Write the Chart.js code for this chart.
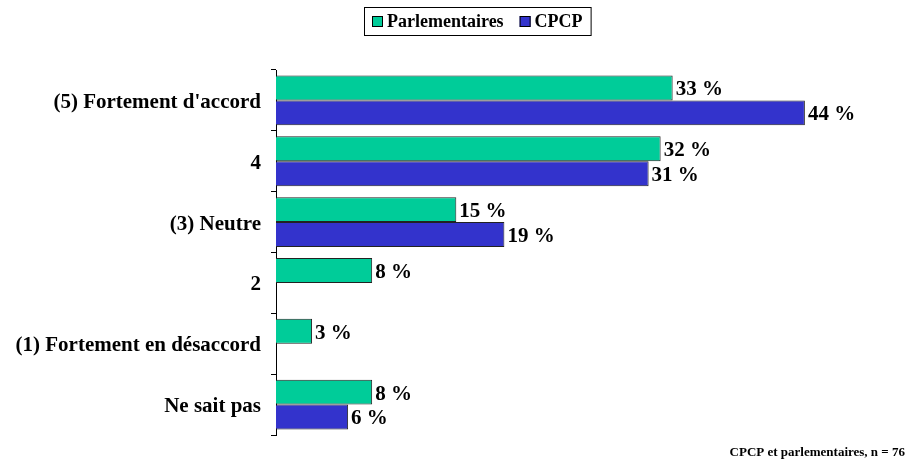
<!DOCTYPE html>
<html>
<head>
<meta charset="utf-8">
<script src="https://cdn.jsdelivr.net/npm/chart.js@4"></script>
<style>
    html, body { margin: 0; padding: 0; background: #fff; }
    #wrap { width: 909px; height: 463px; position: relative; }
</style>
</head>
<body>
<div id="wrap"><canvas id="chart"></canvas></div>
<script>
const categories = ["(5) Fortement d'accord", "4", "(3) Neutre", "2", "(1) Fortement en désaccord", "Ne sait pas"];
const parlementaires = [33, 32, 15, 8, 3, 8];
const cpcp = [44, 31, 19, null, null, 6];
const seriesNames = ["Parlementaires", "CPCP"];
const seriesColors = ["#00CC99", "#3333CC"];
const note = "CPCP et parlementaires, n = 76";

const FONT = "'Liberation Serif', 'Times New Roman', serif";

// etiquettes de valeur + legende encadree + note
const extras = {
    id: "extras",
    afterDatasetsDraw(chart) {
        const ctx = chart.ctx;
        ctx.save();
        ctx.fillStyle = "#000";
        ctx.font = "bold 21px " + FONT;
        ctx.textBaseline = "middle";
        ctx.textAlign = "left";
        chart.data.datasets.forEach((ds, i) => {
            chart.getDatasetMeta(i).data.forEach((bar, j) => {
                if (ds.data[j] == null) return;
                ctx.fillText(ds.data[j] + " %", bar.x + 3, bar.y + 2);
            });
        });
        ctx.restore();
    },
    afterDraw(chart) {
        const ctx = chart.ctx;
        ctx.save();
        // legende
        ctx.font = "bold 18px " + FONT;
        const gap = 16, sq = 11, pad = 8;
        let w = pad;
        seriesNames.forEach((n, i) => {
            w += sq + 4 + ctx.measureText(n).width + (i < seriesNames.length - 1 ? gap : 0);
        });
        w += pad;
        const left = 364, top = 7, h = 28;
        ctx.strokeStyle = "#000";
        ctx.lineWidth = 1;
        ctx.strokeRect(left + 0.5, top + 0.5, w, h);
        let x = left + pad;
        ctx.textBaseline = "middle";
        ctx.textAlign = "left";
        seriesNames.forEach((n, i) => {
            ctx.fillStyle = seriesColors[i];
            ctx.fillRect(x, top + 9, sq, sq);
            ctx.strokeRect(x + 0.5, top + 9.5, sq - 1, sq - 1);
            ctx.fillStyle = "#000";
            ctx.fillText(n, x + sq + 4, top + h / 2 + 1);
            x += sq + 4 + ctx.measureText(n).width + gap;
        });
        // note
        ctx.font = "bold 13px " + FONT;
        ctx.textAlign = "right";
        ctx.textBaseline = "alphabetic";
        ctx.fillText(note, chart.width - 4, chart.height - 7);
        ctx.restore();
    }
};

new Chart(document.getElementById("chart"), {
    type: "bar",
    data: {
        labels: categories,
        datasets: [
            { label: seriesNames[0], data: parlementaires, backgroundColor: seriesColors[0], borderColor: "#222", borderWidth: 1 },
            { label: seriesNames[1], data: cpcp, backgroundColor: seriesColors[1], borderColor: "#222", borderWidth: 1 }
        ]
    },
    options: {
        indexAxis: "y",
        responsive: true,
        maintainAspectRatio: false,
        animation: false,
        layout: { padding: { top: 70, right: 32, bottom: 28, left: 0 } },
        datasets: { bar: { categoryPercentage: 0.82, barPercentage: 1.0 } },
        plugins: {
            legend: { display: false },
            tooltip: { enabled: false }
        },
        scales: {
            x: { display: false, min: 0, max: 50 },
            y: {
                afterFit: scale => { scale.width = 276; },
                border: { color: "#000", width: 1 },
                grid: { offset: true, drawOnChartArea: false, drawTicks: true, tickLength: 5, color: "#000" },
                ticks: { color: "#000", padding: 10, labelOffset: 2, font: { family: FONT, size: 21, weight: "bold" } }
            }
        }
    },
    plugins: [extras]
});
</script>
</body>
</html>
